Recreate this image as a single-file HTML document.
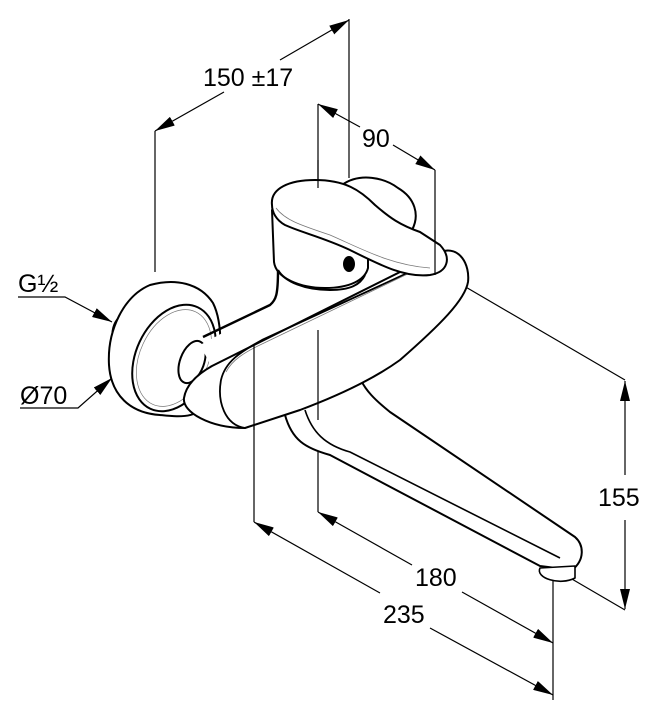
<!DOCTYPE html>
<html><head><meta charset="utf-8"><style>
html,body{margin:0;padding:0;background:#fff;}
svg{display:block;}
text{font-family:"Liberation Sans",sans-serif;font-size:25px;fill:#000;}
</style></head><body>
<svg width="665" height="720" viewBox="0 0 665 720" xmlns="http://www.w3.org/2000/svg">
<defs>
<marker id="a" viewBox="0 0 20 10" refX="20" refY="5" markerWidth="20" markerHeight="10" markerUnits="userSpaceOnUse" orient="auto-start-reverse"><path d="M0,0 L20,5 L0,10 Z" fill="#000"/></marker>
</defs>
<g fill="none" stroke="#000" stroke-width="1.2">
<line x1="155" y1="131" x2="155" y2="272"/>
<line x1="349" y1="19" x2="349" y2="178"/>
<line x1="155" y1="131" x2="224" y2="92" marker-start="url(#a)"/>
<line x1="280" y1="60" x2="349" y2="20" marker-end="url(#a)"/>
<line x1="318" y1="104" x2="318" y2="186"/>
<line x1="435" y1="170" x2="435" y2="275"/>
<line x1="318" y1="104" x2="360" y2="127" marker-start="url(#a)"/>
<line x1="393" y1="145" x2="435" y2="170" marker-end="url(#a)"/>
<line x1="440" y1="272" x2="625" y2="380"/>
<line x1="565" y1="575" x2="625" y2="610"/>
<line x1="625" y1="381" x2="625" y2="475" marker-start="url(#a)"/>
<line x1="625" y1="520" x2="625" y2="609" marker-end="url(#a)"/>
<line x1="318" y1="330" x2="318" y2="512"/>
<line x1="318" y1="512" x2="412" y2="565" marker-start="url(#a)"/>
<line x1="462" y1="592" x2="553" y2="643" marker-end="url(#a)"/>
<line x1="254" y1="345" x2="254" y2="522"/>
<line x1="553" y1="565" x2="553" y2="700"/>
<line x1="254" y1="522" x2="380" y2="593" marker-start="url(#a)"/>
<line x1="430" y1="628" x2="553" y2="695" marker-end="url(#a)"/>
<polyline points="18,297 65,297 112,322" marker-end="url(#a)"/>
<polyline points="20,408 78,408 112,378" marker-end="url(#a)"/>
</g>
<text x="203" y="86">150 ±17</text>
<text x="362" y="147">90</text>
<text x="598" y="506">155</text>
<text x="415" y="586">180</text>
<text x="383" y="623">235</text>
<text x="18" y="292">G½</text>
<text x="20" y="404">Ø70</text>

<g fill="#fff" stroke="#000" stroke-width="2" stroke-linejoin="round">
<path d="M285,415 C292,440 305,448 330,455 L540,566 L572,570 C585,560 584,545 575,537 L390,412 C375,400 365,390 360,378 Z"/>
<path d="M305,410 C312,432 325,445 350,452 L560,558" fill="none" stroke-width="1.6"/>
<path d="M540,568 C535,578 560,586 575,578 L575,566 Z" stroke-width="1.6"/>
<ellipse cx="122" cy="330" rx="9" ry="15" transform="rotate(15 122 330)"/>
<path d="M150,285 C175,278 200,283 213,303 C224,325 222,370 212,395 C202,420 180,417 160,415 C130,413 111,395 109,365 C107,330 124,296 150,285 Z"/>
<ellipse cx="174" cy="358" rx="38" ry="56" transform="rotate(25 174 358)"/>
<ellipse cx="174" cy="358" rx="34" ry="51" transform="rotate(25 174 358)" stroke-width="0.7" stroke="#777"/>
<ellipse cx="192" cy="362" rx="12" ry="22" transform="rotate(20 192 362)"/>
<path d="M200,345 L275,305 L280,270 L360,270 L445,250 L460,300 L240,420 Z" stroke="none"/>
<path d="M203,337 L270,305 C276,300 278,295 278,270" fill="none" stroke-width="2.4"/>
<path d="M245,428 C210,428 182,412 184,398 C186,385 196,375 212,366 L440,252 C460,245 470,265 468,282 C465,300 440,325 400,360 C375,378 340,395 300,410 Z"/>
<path d="M245,428 C225,425 217,402 221,380 C225,362 240,352 262,340 L440,258" fill="none" stroke-width="1.8"/>
<path d="M226,372 C232,360 245,352 262,344 L420,268" fill="none" stroke="#777" stroke-width="0.8"/>
<path d="M342,185 C360,172 385,178 398,188 C415,198 420,215 412,230 L380,232 Z"/>
<path d="M272,210 L274,262 C276,278 300,288 325,288 C350,288 365,280 368,268 L368,230 Z"/>
<path d="M278,270 C285,282 305,290 330,290 C350,290 360,285 365,275" fill="none"/>
<ellipse cx="349" cy="264" rx="5" ry="7" fill="#000"/>
<path d="M272,205 C270,188 290,180 315,180 C345,180 360,190 375,205 C390,218 400,225 420,232 L440,245 C452,258 448,272 430,275 C405,278 380,265 350,250 C325,238 300,232 285,225 C276,220 272,212 272,205 Z"/>
<path d="M276,208 C285,220 300,225 330,235 C360,248 390,265 430,268" fill="none" stroke="#777" stroke-width="0.8"/>
</g>
<g stroke="#000" stroke-width="1.2">
<line x1="318" y1="160" x2="318" y2="188"/>
<line x1="435" y1="230" x2="435" y2="275"/>
<line x1="254" y1="345" x2="254" y2="430"/>
<line x1="318" y1="330" x2="318" y2="420"/>
</g>
</svg>
</body></html>
